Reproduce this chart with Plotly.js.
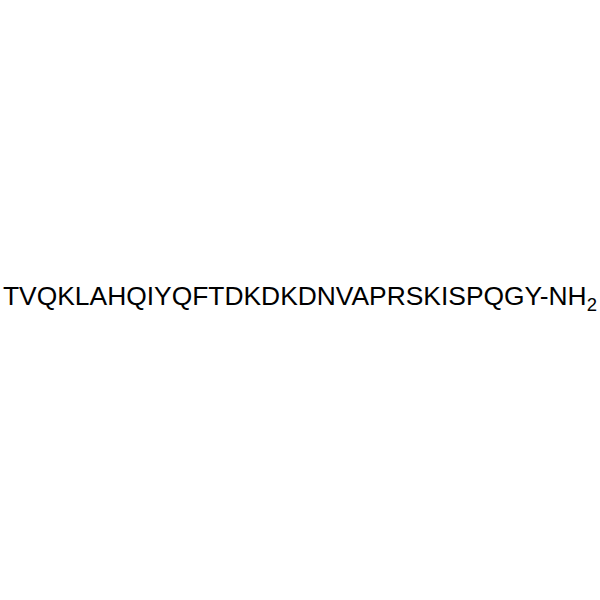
<!DOCTYPE html>
<html>
<head>
<meta charset="utf-8">
<script src="https://cdn.plot.ly/plotly-3.0.1.min.js"></script>
<style>html,body{margin:0;padding:0;background:#fff;}#chart{width:600px;height:600px;}</style>
</head>
<body>
<div id="chart"></div>
<script>
var sequence = ["TVQKLAHQIYQFTDKDKDNVAPRSKISPQGY"];
var cTerminal = ["-NH", "2"];

var label = sequence[0] + cTerminal[0] + "<sub>" + cTerminal[1] + "</sub>";

var layout = {
  width: 600, height: 600,
  margin: {l: 0, r: 0, t: 0, b: 0},
  paper_bgcolor: "#ffffff",
  plot_bgcolor: "#ffffff",
  xaxis: {visible: false, range: [0, 1]},
  yaxis: {visible: false, range: [0, 1]},
  showlegend: false,
  annotations: [{
    x: 0.5, y: 0.503, xref: "paper", yref: "paper",
    xanchor: "center", yanchor: "middle",
    text: label, showarrow: false,
    font: {family: "Liberation Sans, Arial, sans-serif", size: 26.4, color: "#000000"}
  }]
};
Plotly.newPlot("chart", [], layout, {staticPlot: true, displayModeBar: false});
</script>
</body>
</html>
